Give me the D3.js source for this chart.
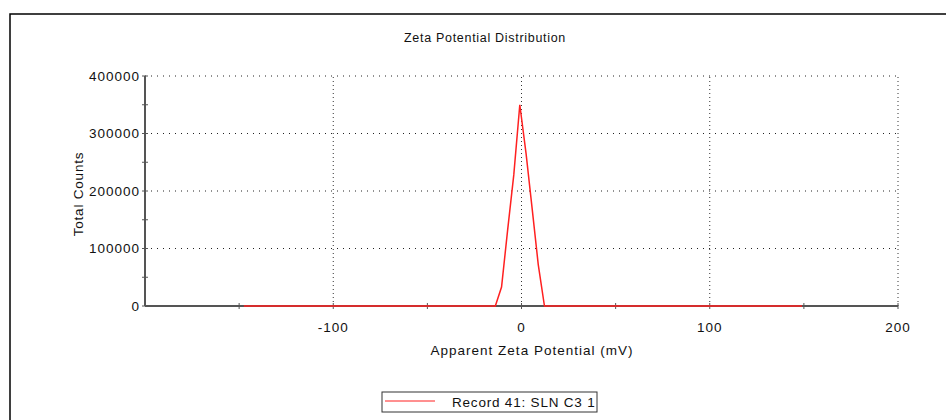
<!DOCTYPE html>
<html lang="en">
<head>
<meta charset="UTF-8">
<title>Zeta Potential Distribution</title>
<script src="https://d3js.org/d3.v7.min.js"></script>
<style>
  body { margin: 0; background: #fff; }
  svg { display: block; font-family: "Liberation Sans", Arial, sans-serif; }
</style>
</head>
<body>
<div id="chart"></div>
<script>
// data
const zeta   = [-147.5, -13.9, -10.6, -7.4, -4.1, -0.9, 2.4, 5.6, 8.9, 12.2, 149.0];
const counts = [0, 0, 33000, 131000, 228000, 350000, 266000, 171000, 72000, 0, 0];
const xTicks = [-100, 0, 100, 200];
const xMinor = [-150, -50, 50, 150];
const yTicks = [0, 100000, 200000, 300000, 400000];
const yMinor = [50000, 150000, 250000, 350000];
const seriesName = "Record 41: SLN C3 1";

const W = 946, H = 420;
const svg = d3.select("#chart").append("svg")
  .attr("width", W).attr("height", H);

// outer frame
svg.append("rect")
  .attr("x", 10).attr("y", 14)
  .attr("width", W + 20).attr("height", H + 20)
  .attr("fill", "none").attr("stroke", "#000").attr("stroke-width", 1.5);

const x = d3.scaleLinear().domain([-200, 200]).range([145, 898]);
const y = d3.scaleLinear().domain([0, 400000]).range([306, 76]);

// grid
svg.append("g").selectAll("line").data(yTicks.slice(1)).join("line")
  .attr("x1", x(-200)).attr("x2", x(200))
  .attr("y1", d => y(d)).attr("y2", d => y(d))
  .attr("stroke", "#222").attr("stroke-width", 1)
  .attr("stroke-dasharray", "1,5");

svg.append("g").selectAll("line").data(xTicks).join("line")
  .attr("x1", d => x(d)).attr("x2", d => x(d))
  .attr("y1", y(0)).attr("y2", y(400000))
  .attr("stroke", "#333").attr("stroke-width", 1)
  .attr("stroke-dasharray", "1,3");

// axes
const axisColor = "#555";
const xAxis = svg.append("g").attr("transform", `translate(0,${y(0)})`);
xAxis.append("line").attr("x1", x(-200)).attr("x2", x(200))
  .attr("stroke", axisColor).attr("stroke-width", 2);
xAxis.selectAll(".mt").data(xTicks.concat(xMinor)).join("line")
  .attr("x1", d => x(d)).attr("x2", d => x(d))
  .attr("y1", -3).attr("y2", 3)
  .attr("stroke", axisColor).attr("stroke-width", 1);
xAxis.selectAll("text").data(xTicks).join("text")
  .attr("x", d => x(d)).attr("y", 26)
  .attr("text-anchor", "middle")
  .attr("font-size", 13.5).attr("letter-spacing", 1).attr("fill", "#111")
  .text(d => d);

const yAxis = svg.append("g").attr("transform", `translate(${x(-200)},0)`);
yAxis.append("line").attr("y1", y(0)).attr("y2", y(400000))
  .attr("stroke", axisColor).attr("stroke-width", 2);
yAxis.selectAll(".mt").data(yTicks.concat(yMinor)).join("line")
  .attr("x1", -3).attr("x2", 3)
  .attr("y1", d => y(d)).attr("y2", d => y(d))
  .attr("stroke", axisColor).attr("stroke-width", 1);
yAxis.selectAll("text").data(yTicks).join("text")
  .attr("x", -5).attr("y", d => y(d))
  .attr("dy", "0.35em")
  .attr("text-anchor", "end")
  .attr("font-size", 13.5).attr("letter-spacing", 1).attr("fill", "#111")
  .text(d => d);

// series
const line = d3.line().x((d, i) => x(zeta[i])).y(d => y(d));
svg.append("path")
  .datum(counts)
  .attr("fill", "none")
  .attr("stroke", "#ff2020")
  .attr("stroke-width", 1.5)
  .attr("d", line);

// titles
svg.append("text")
  .attr("x", 485).attr("y", 42)
  .attr("text-anchor", "middle")
  .attr("font-size", 12.5).attr("letter-spacing", 0.7).attr("fill", "#111")
  .text("Zeta Potential Distribution");

svg.append("text")
  .attr("x", 532).attr("y", 355)
  .attr("text-anchor", "middle")
  .attr("font-size", 13.5).attr("letter-spacing", 1).attr("fill", "#111")
  .text("Apparent Zeta Potential (mV)");

svg.append("text")
  .attr("transform", "translate(83,194) rotate(-90)")
  .attr("text-anchor", "middle")
  .attr("font-size", 13.5).attr("letter-spacing", 0.8).attr("fill", "#111")
  .text("Total Counts");

// legend
const lg = svg.append("g").attr("transform", "translate(382,392)");
lg.append("rect").attr("width", 215).attr("height", 20)
  .attr("fill", "#fff").attr("stroke", "#333").attr("stroke-width", 1);
lg.append("line").attr("x1", 3).attr("x2", 53).attr("y1", 9).attr("y2", 9)
  .attr("stroke", "#ff2020").attr("stroke-width", 1);
lg.append("text").attr("x", 70).attr("y", 15)
  .attr("font-size", 13.5).attr("letter-spacing", 0.8).attr("fill", "#111")
  .text(seriesName);
</script>
</body>
</html>
